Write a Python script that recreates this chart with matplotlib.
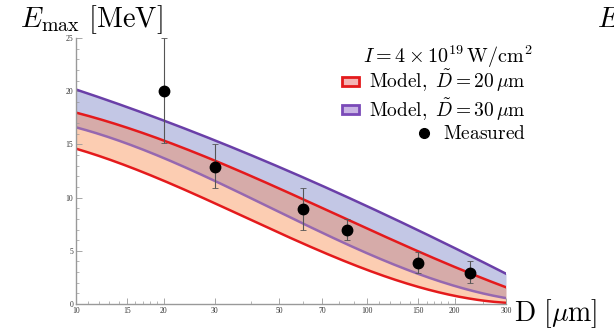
import numpy as np
import matplotlib
matplotlib.use("Agg")
import matplotlib.pyplot as plt
from matplotlib.patches import Patch
from matplotlib.lines import Line2D
from matplotlib.ticker import NullFormatter

plt.rcParams['mathtext.fontset'] = 'cm'
plt.rcParams['font.family'] = 'serif'
plt.rcParams['font.serif'] = ['Liberation Serif', 'DejaVu Serif']

# model bands, Emax [MeV] vs D [um]
d_model = [10, 20, 31, 55, 95, 131, 195, 300]
red_hi = [18.0, 15.3, 13.4, 10.3, 7.3, 5.8, 3.5, 1.6]
red_lo = [14.6, 11.6, 9.2, 6.3, 3.4, 2.0, 0.9, 0.1]
pur_hi = [20.1, 17.4, 15.2, 12.3, 9.3, 7.7, 5.7, 2.7]
pur_lo = [16.6, 13.8, 11.2, 8.2, 5.1, 3.4, 1.7, 0.6]

# measured points
d_meas = [20, 30, 60, 85, 150, 225]
e_meas = [20.0, 12.9, 8.9, 7.0, 3.9, 2.9]
e_top = [25.0, 15.0, 10.9, 8.0, 4.9, 4.0]
e_bot = [15.1, 10.9, 7.0, 6.0, 2.9, 2.0]

xticks = [10, 15, 20, 30, 50, 70, 100, 150, 200, 300]
xminor = [11, 12, 13, 14, 16, 17, 18, 19, 40, 60, 80, 90,
          110, 120, 130, 140, 160, 170, 180, 190, 250]

c_red = '#e41a1c'
c_pur_hi = '#6a3fa8'
c_pur_lo = '#9668b0'
f_red = '#fccdb2'
f_pur = '#c3c7e5'
f_both = '#d6aba9'

# smooth curves through the read values (cubic in log D)
xs = np.logspace(1, np.log10(300), 300)
lx = np.log10(d_model)
def smooth(v):
    p = np.polyfit(lx, v, 3)
    return np.polyval(p, np.log10(xs))
rh, rl, ph, pl = smooth(red_hi), smooth(red_lo), smooth(pur_hi), smooth(pur_lo)

fig = plt.figure(figsize=(6.14, 3.31), dpi=100)
ax = fig.add_axes([76/614, 1-304/331, 430/614, 266/331])

ax.fill_between(xs, rl, pl, color=f_red, lw=0)
ax.fill_between(xs, pl, rh, color=f_both, lw=0)
ax.fill_between(xs, rh, ph, color=f_pur, lw=0)
ax.plot(xs, rl, color=c_red, lw=1.8)
ax.plot(xs, pl, color=c_pur_lo, lw=1.8)
ax.plot(xs, rh, color=c_red, lw=1.8)
ax.plot(xs, ph, color=c_pur_hi, lw=1.8)

yerr = [np.array(e_meas) - np.array(e_bot), np.array(e_top) - np.array(e_meas)]
ax.errorbar(d_meas, e_meas, yerr=yerr, fmt='o', color='black', ms=7.5,
            ecolor='#555555', elinewidth=0.8, capsize=2, capthick=0.6, zorder=5)

ax.set_xscale('log')
ax.set_xlim(10, 300)
ax.set_ylim(0, 25)
ax.set_xticks(xticks)
ax.set_xticks(xminor, minor=True)
ax.set_xticklabels([str(t) for t in xticks])
ax.xaxis.set_minor_formatter(NullFormatter())
ax.set_yticks([0, 5, 10, 15, 20, 25])
ax.set_yticks(range(0, 26), minor=True)
ax.tick_params(which='both', direction='in', color='#999999', labelsize=5.5,
               labelcolor='#333333', pad=2)
ax.tick_params(which='major', length=4, width=0.6)
ax.tick_params(which='minor', length=2, width=0.5)
for s in ['top', 'right']:
    ax.spines[s].set_visible(False)
for s in ['left', 'bottom']:
    ax.spines[s].set_color('#999999')
    ax.spines[s].set_linewidth(1.0)

fig.text(20/614, 1-27/331, r'$E_{\max}\ [\mathrm{MeV}]$', fontsize=20.5, va='baseline')
fig.text(514/614, 1-321/331, r'$\mathrm{D}\ [\mu\mathrm{m}]$', fontsize=20, va='baseline')
fig.text(597/614, 1-27/331, r'$E$', fontsize=20.5, va='baseline')
fig.text(363/614, 1-63/331, r'$I=4\times10^{19}\,\mathrm{W/cm^2}$', fontsize=14.5,
         va='baseline')

handles = [
    Patch(facecolor='#f4b4b4', edgecolor=c_red, lw=2),
    Patch(facecolor='#c8b4e4', edgecolor='#7a4ab8', lw=2),
    Line2D([], [], marker='o', ls='', color='black', ms=7),
]
labels = [r'$\mathrm{Model,}\ \tilde{D}=20\,\mu\mathrm{m}$',
          r'$\mathrm{Model,}\ \tilde{D}=30\,\mu\mathrm{m}$',
          r'$\mathrm{Measured}$']
leg = ax.legend(handles, labels, loc='upper right', bbox_to_anchor=(526/614, 1-68/331),
                bbox_transform=fig.transFigure, frameon=False, fontsize=14,
                handlelength=0.85, handleheight=0.35, handletextpad=0.55,
                labelspacing=0.1, borderpad=0, borderaxespad=0)
for col in leg._legend_handle_box.get_children():
    col.align = 'right'

fig.savefig('out.png', dpi=100)
